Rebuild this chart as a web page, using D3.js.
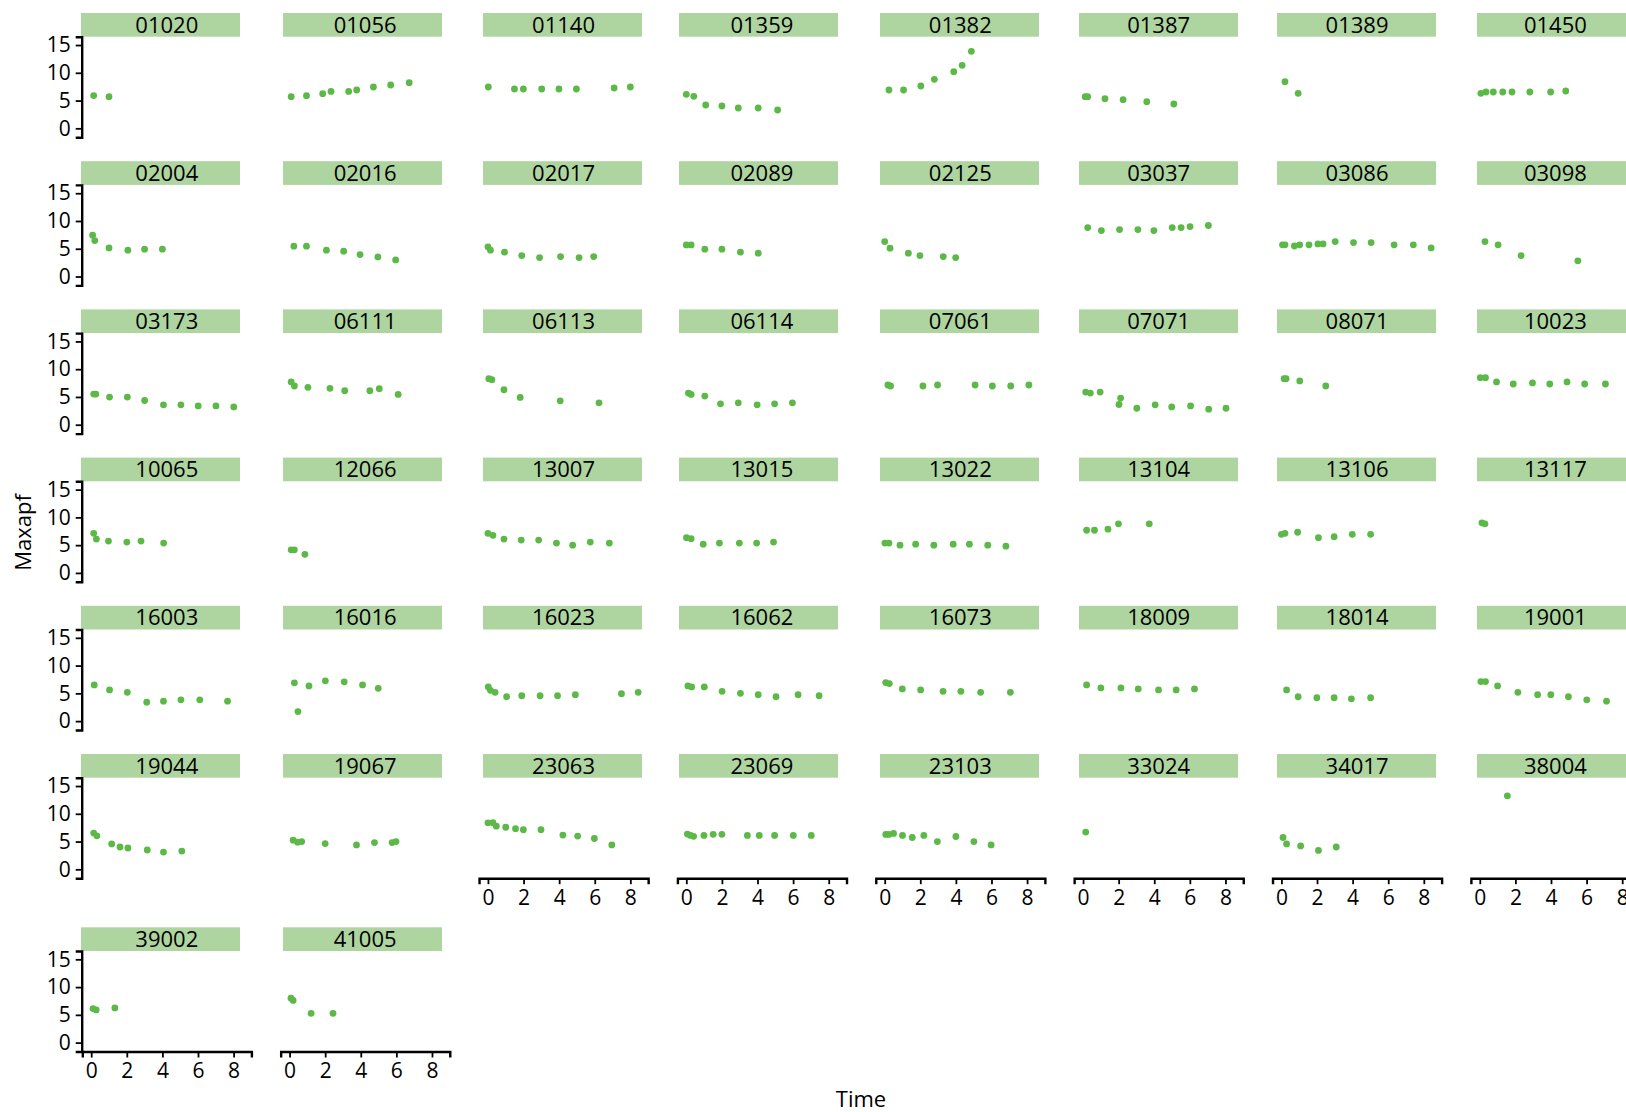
<!DOCTYPE html>
<html><head><meta charset="utf-8">
<script src="https://cdn.jsdelivr.net/npm/d3@7"></script>
<style>
html,body{margin:0;padding:0;background:#fff;overflow:hidden;}
svg{display:block;font-family:"Open Sans","Noto Sans",sans-serif;}
</style></head><body>
<svg id="chart" width="1626" height="1112"></svg>
<script>
const subjects = [
  "01020","01056","01140","01359","01382","01387","01389","01450",
  "02004","02016","02017","02089","02125","03037","03086","03098",
  "03173","06111","06113","06114","07061","07071","08071","10023",
  "10065","12066","13007","13015","13022","13104","13106","13117",
  "16003","16016","16023","16062","16073","18009","18014","19001",
  "19044","19067","23063","23069","23103","33024","34017","38004",
  "39002","41005"
];
const times = [
  [0.14,1.0],
  [0.09,0.95,1.86,2.33,3.32,3.77,4.71,5.68,6.72],
  [0.02,1.49,1.99,3.02,3.99,4.97,7.09,8.0],
  [0.0,0.42,1.09,2.0,2.92,4.04,5.13],
  [0.24,1.06,2.03,2.79,3.88,4.35,4.87],
  [0.12,0.26,1.23,2.25,3.58,5.1],
  [0.2,0.94],
  [0.06,0.35,0.76,1.29,1.81,2.81,3.98,4.83],
  [0.08,0.2,1.0,2.06,3.0,4.0],
  [0.24,0.95,2.07,3.04,3.96,4.96,5.96],
  [0.0,0.14,0.93,1.9,2.9,4.08,5.12,5.94],
  [0.0,0.27,1.04,2.0,3.04,4.04],
  [0.0,0.3,1.33,1.98,3.29,3.99],
  [0.26,1.03,2.05,3.08,3.98,5.01,5.51,6.01,7.04],
  [0.06,0.2,0.73,1.03,1.55,2.05,2.34,3.02,4.05,5.04,6.33,7.41,8.41],
  [0.29,1.03,2.32,5.51],
  [0.14,0.26,1.03,2.03,3.0,4.06,5.04,6.01,7.01,8.01],
  [0.09,0.27,1.03,2.27,3.1,4.51,5.04,6.1],
  [0.05,0.22,0.9,1.81,4.06,6.24],
  [0.12,0.27,1.04,1.92,2.92,3.98,4.96,5.96],
  [0.18,0.33,2.15,2.97,5.08,6.05,7.08,8.1],
  [0.15,0.41,0.96,2.02,2.11,3.02,4.05,4.98,6.04,7.06,8.03],
  [0.15,0.26,1.03,2.49],
  [0.03,0.32,0.94,1.88,2.96,3.93,4.9,5.89,7.06],
  [0.14,0.29,0.97,2.0,2.8,4.07],
  [0.09,0.27,0.86],
  [0.0,0.28,0.9,1.87,2.85,3.85,4.76,5.75,6.82],
  [0.01,0.27,0.95,1.86,2.98,3.95,4.9],
  [0.01,0.24,0.86,1.74,2.76,3.85,4.76,5.79,6.81],
  [0.2,0.64,1.4,1.99,3.72],
  [0.0,0.2,0.91,2.08,2.96,3.98,5.01],
  [0.12,0.29],
  [0.17,1.03,2.03,3.12,4.06,5.04,6.1,7.66],
  [0.27,0.47,1.09,2.01,3.07,4.1,4.98],
  [0.02,0.14,0.4,1.05,1.9,2.93,3.91,4.91,7.5,8.44],
  [0.09,0.3,1.01,2.01,3.04,4.04,5.04,6.28,7.46],
  [0.06,0.26,0.99,2.02,3.28,4.28,5.39,7.06],
  [0.2,1.0,2.13,3.1,4.24,5.23,6.26],
  [0.29,0.94,1.99,2.96,3.93,5.01],
  [0.06,0.32,1.0,2.14,3.25,3.99,4.98,6.01,7.12],
  [0.14,0.32,1.15,1.62,2.06,3.15,4.06,5.09],
  [0.2,0.45,0.68,2.0,3.76,4.77,5.76,5.98],
  [0.0,0.28,0.47,1.0,1.55,1.99,2.98,4.21,5.04,5.98,6.96],
  [0.06,0.24,0.41,0.99,1.51,2.0,3.43,4.1,4.96,6.01,7.02],
  [0.06,0.23,0.5,1.0,1.55,2.2,2.96,4.0,5.01,5.98],
  [0.15],
  [0.09,0.29,1.08,2.08,3.08],
  [1.55],
  [0.1,0.28,1.33],
  [0.08,0.2,1.21,2.44]
];
const maxapf = [
  [5.9,5.7],
  [5.7,5.87,6.23,6.65,6.65,6.9,7.44,7.8,8.22],
  [7.44,7.08,7.08,7.08,7.08,7.08,7.26,7.44],
  [6.12,5.76,4.2,4.02,3.66,3.66,3.3],
  [6.9,6.9,7.62,8.82,10.2,11.35,13.87],
  [5.7,5.7,5.33,5.15,4.79,4.38],
  [8.4,6.3],
  [6.3,6.54,6.54,6.54,6.54,6.54,6.54,6.72],
  [7.44,6.48,5.15,4.74,4.92,4.92],
  [5.46,5.46,4.74,4.56,3.96,3.53,2.99],
  [5.34,4.74,4.38,3.78,3.42,3.6,3.42,3.6],
  [5.69,5.69,4.92,4.92,4.38,4.2],
  [6.3,5.1,4.2,3.78,3.6,3.42],
  [8.82,8.28,8.46,8.46,8.28,8.82,8.82,9.0,9.19],
  [5.7,5.7,5.5,5.7,5.7,5.87,5.87,6.3,6.12,6.12,5.7,5.7,5.15],
  [6.3,5.7,3.78,2.82],
  [5.52,5.52,4.97,4.97,4.36,3.58,3.58,3.39,3.39,3.21],
  [7.7,6.97,6.73,6.55,6.12,6.12,6.48,5.45],
  [8.3,8.12,6.3,4.91,4.3,3.94],
  [5.7,5.45,5.15,3.76,3.94,3.58,3.76,3.94],
  [7.15,6.97,6.97,7.15,7.15,6.97,6.97,7.15],
  [5.88,5.7,5.88,3.64,4.79,2.97,3.58,3.21,3.39,2.79,2.97],
  [8.3,8.3,7.88,6.97],
  [8.48,8.48,7.7,7.33,7.52,7.33,7.7,7.33,7.33],
  [7.13,6.1,5.73,5.55,5.73,5.37],
  [4.15,4.15,3.35],
  [7.13,6.77,6.1,5.91,5.91,5.37,5.0,5.55,5.37],
  [6.34,6.16,5.18,5.37,5.37,5.37,5.55],
  [5.37,5.37,5.0,5.18,5.0,5.18,5.18,5.0,4.82],
  [7.68,7.68,7.87,8.84,8.84],
  [6.95,7.13,7.32,6.34,6.52,6.95,6.95],
  [9.02,8.84],
  [6.52,5.61,5.18,3.41,3.6,3.84,3.84,3.6],
  [6.89,1.71,6.34,7.26,7.07,6.52,5.91],
  [6.16,5.55,5.18,4.39,4.57,4.57,4.57,4.76,4.94,5.18],
  [6.34,6.16,6.16,5.37,5.0,4.76,4.39,4.76,4.57],
  [6.95,6.77,5.79,5.61,5.37,5.37,5.18,5.18],
  [6.52,5.98,5.98,5.79,5.61,5.61,5.79],
  [5.61,4.39,4.21,4.21,4.02,4.21],
  [7.13,7.13,6.34,5.18,4.76,4.76,4.39,3.84,3.6],
  [6.52,6.04,4.57,4.02,3.84,3.48,3.11,3.29],
  [5.24,4.88,5.0,4.63,4.39,4.82,4.82,5.0],
  [8.38,8.4,7.77,7.58,7.32,7.13,7.13,6.16,5.98,5.55,4.39],
  [6.34,6.1,5.95,6.1,6.3,6.3,6.1,6.1,6.1,6.1,6.1],
  [6.28,6.28,6.46,6.1,5.73,6.1,5.0,5.91,5.0,4.39],
  [6.7],
  [5.73,4.57,4.21,3.41,4.02],
  [13.23],
  [6.13,5.89,6.25],
  [8.01,7.59,5.28,5.28]
];
const xTicks = [0, 2, 4, 6, 8];
const yTicks = [0, 5, 10, 15];
const xDomain = [-0.5, 9];
const yDomain = [-1.6, 16.5];

const svg = d3.select("#chart");
svg.append("rect").attr("width", 1626).attr("height", 1112).attr("fill", "#fff");

const nCols = 8;
const n = subjects.length;
const hasXAxis = i => i + nCols >= n;
const rowHasXAxis = r => d3.range(r * nCols, Math.min(n, (r + 1) * nCols)).some(hasXAxis);

function rowTop(r) {
  let extra = 0;
  for (let k = 0; k < r; k++) if (rowHasXAxis(k)) extra += 25.1;
  return 13 + r * 148.2 + extra;
}
const zeroX = c => 91.2 + c * 198.37;
const stripLeft = [81, 283, 483, 679, 880, 1079, 1277, 1477];

const dotColor = "#5cb947";
const stripColor = "#aed5a0";

subjects.forEach((id, i) => {
  const c = i % nCols, r = Math.floor(i / nCols);
  const T = rowTop(r);
  const x0 = zeroX(c);
  const xs = d3.scaleLinear().domain(xDomain).range([x0 - 8.9, x0 + 160.2]);
  const ys = d3.scaleLinear().domain(yDomain).range([T + 124.2, T + 23.7]);
  const g = svg.append("g");

  // strip
  g.append("rect").attr("x", stripLeft[c]).attr("y", T).attr("width", 159).attr("height", 23.7)
    .attr("fill", stripColor);
  g.append("text").attr("x", x0 + 75.6).attr("y", T + 11.85).attr("dy", "0.35em")
    .attr("text-anchor", "middle").attr("font-size", 22).attr("fill", "#000").text(id);

  // y axis
  if (c === 0) {
    const ya = g.append("g").attr("transform", `translate(${xs.range()[0] - 0.6},0)`)
      .call(d3.axisLeft(ys).tickValues(yTicks).tickSizeOuter(0).tickSize(6).tickPadding(5));
    ya.attr("font-size", null).attr("font-family", null);
    ya.select(".domain").attr("stroke", "#000").attr("stroke-width", 2.4);
    ya.selectAll(".tick line").attr("stroke", "#000").attr("stroke-width", 1.8);
    ya.selectAll(".tick text").attr("font-size", 21).attr("fill", "#000");
  }
  // x axis
  if (hasXAxis(i)) {
    const xa = g.append("g").attr("transform", `translate(0,${ys.range()[0]})`)
      .call(d3.axisBottom(xs).tickValues(xTicks).tickSizeOuter(0).tickSize(6).tickPadding(6));
    xa.attr("font-size", null).attr("font-family", null);
    xa.select(".domain").attr("stroke", "#000").attr("stroke-width", 2.4);
    xa.selectAll(".tick line").attr("stroke", "#000").attr("stroke-width", 1.8);
    xa.selectAll(".tick text").attr("font-size", 21).attr("fill", "#000");
  }

  // points
  const pts = times[i].map((t, k) => ({t, v: maxapf[i][k]}));
  g.selectAll("circle.pt").data(pts).join("circle").attr("class", "pt")
    .attr("cx", d => xs(d.t)).attr("cy", d => ys(d.v)).attr("r", 3.4)
    .attr("fill", dotColor);
});

svg.append("text").attr("transform", "translate(30.7,532.5) rotate(-90)")
  .attr("text-anchor", "middle").attr("font-size", 22).attr("fill", "#000").text("Maxapf");
svg.append("text").attr("x", 861).attr("y", 1107.3)
  .attr("text-anchor", "middle").attr("font-size", 22).attr("fill", "#000").text("Time");
</script>
</body></html>
